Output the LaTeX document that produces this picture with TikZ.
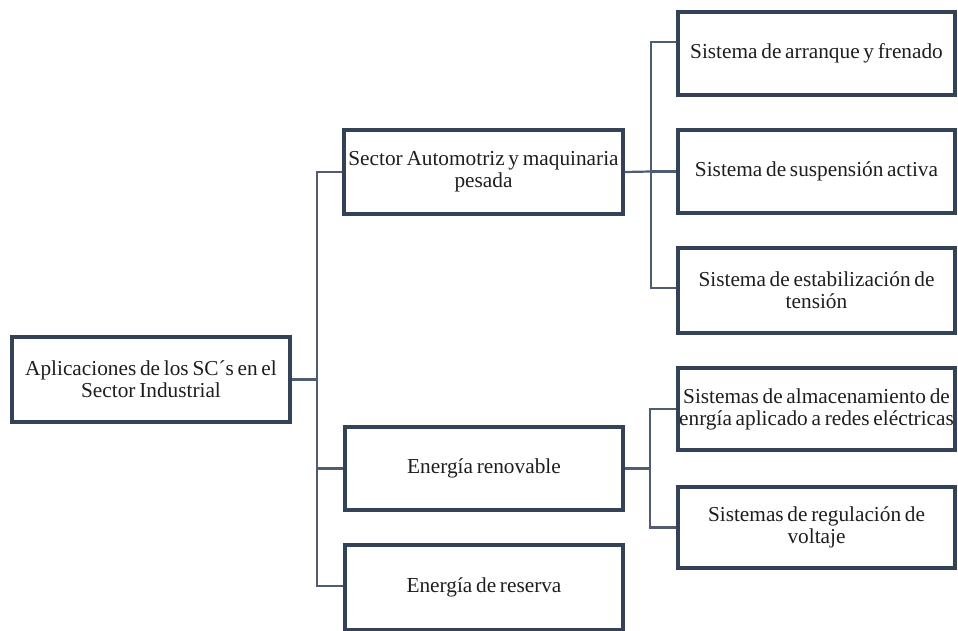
\documentclass[tikz,border=0pt]{standalone}
\usepackage{fontspec}
\setmainfont[WordSpace=0.7]{Liberation Serif}
\definecolor{boxc}{HTML}{344257}
\definecolor{linec}{HTML}{4E5D72}
\definecolor{txt}{HTML}{1E1E1E}
\begin{document}
\begin{tikzpicture}[x=1pt,y=-1pt,
  box/.style={draw=boxc,line width=3.2pt,minimum width=#1,inner sep=0pt,align=center,
     font=\fontsize{21.3}{22}\selectfont,text=txt},
  conn/.style={draw=linec,line width=2.2pt}]
\useasboundingbox (0,0) rectangle (958,631);
\node[box=278pt,minimum height=85pt] (root) at (151,379.5) {Aplicaciones de los SC´s en el\\Sector Industrial};
\node[box=279pt,minimum height=84pt] (sector) at (483.5,172) {Sector Automotriz y maquinaria\\pesada};
\node[box=278pt,minimum height=83pt] (renov) at (484,468.5) {Energía renovable};
\node[box=278pt,minimum height=85pt] (reserva) at (484,587.5) {Energía de reserva};
\node[box=277pt,minimum height=83pt] (b1) at (816.5,53.5) {Sistema de arranque y frenado};
\node[box=277pt,minimum height=83pt] (b2) at (816.5,171.5) {Sistema de suspensión activa};
\node[box=277pt,minimum height=85pt] (b3) at (816.5,290.5) {Sistema de estabilización de\\tensión};
\node[box=277pt,minimum height=82pt] (b4) at (816.5,409) {Sistemas de almacenamiento de\\enrgía aplicado a redes eléctricas};
\node[box=277pt,minimum height=81pt] (b5) at (816.5,527.5) {Sistemas de regulación de\\voltaje};
\coordinate (j1) at (317,379.5);
\coordinate (j2) at (651,171.5);
\coordinate (j3) at (650,468.5);
\draw[conn] (root.east) -- (j1);
\draw[conn] (j1) |- (sector.west);
\draw[conn] (j1) |- (renov.west);
\draw[conn] (j1) |- ([yshift=1.5pt]reserva.west);
\draw[conn] (sector.east) -- (j2);
\draw[conn] (j2) |- ([yshift=11.5pt]b1.west);
\draw[conn] (j2) -- (b2.west);
\draw[conn] (j2) |- ([yshift=2.5pt]b3.west);
\draw[conn] (renov.east) -- (j3);
\draw[conn] (j3) |- (b4.west);
\draw[conn] (j3) |- (b5.west);
\end{tikzpicture}
\end{document}
